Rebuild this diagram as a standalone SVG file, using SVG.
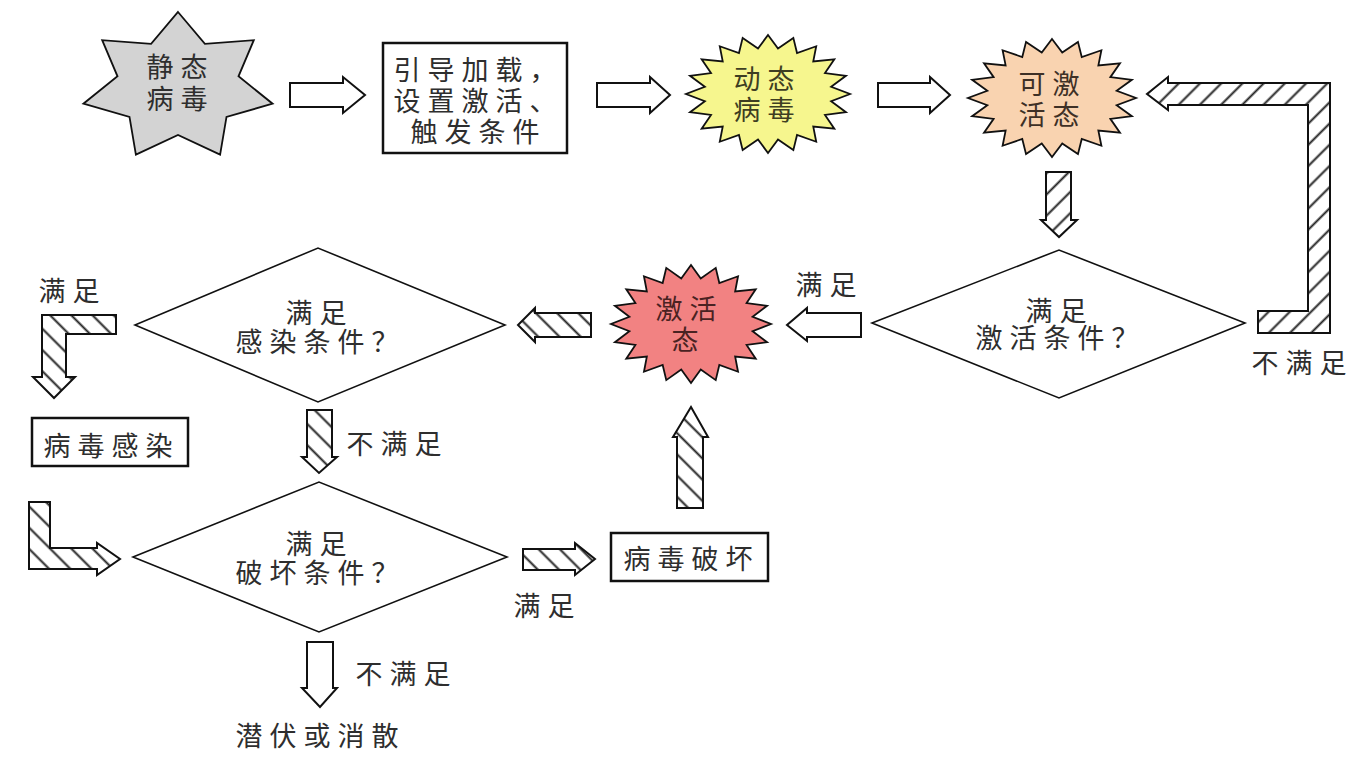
<svg xmlns="http://www.w3.org/2000/svg" xmlns:xlink="http://www.w3.org/1999/xlink" width="1356" height="759" viewBox="0 0 1356 759">
<style>
text{font-family:"Noto Sans CJK SC","Noto Sans",sans-serif;font-size:27px;letter-spacing:7px;fill:#2e2e2e}
.box{fill:#fff;stroke:#111;stroke-width:2.5}
.dia{fill:#fff;stroke:#111;stroke-width:1.6}
.star{stroke:#111;stroke-width:1.8;stroke-linejoin:miter}
.hol{fill:#fff;stroke:#111;stroke-width:2;stroke-linejoin:miter}
.hf{fill:url(#hatchF);stroke:#111;stroke-width:2;stroke-linejoin:miter}
.hb{fill:url(#hatchB);stroke:#111;stroke-width:2;stroke-linejoin:miter}
</style>
<defs>
<pattern id="hatchF" patternUnits="userSpaceOnUse" width="15" height="15" patternTransform="rotate(45)">
<rect width="15" height="15" fill="#fff"/><line x1="7.5" y1="-1" x2="7.5" y2="16" stroke="#222" stroke-width="2"/>
</pattern>
<pattern id="hatchB" patternUnits="userSpaceOnUse" width="15" height="15" patternTransform="rotate(-45)">
<rect width="15" height="15" fill="#fff"/><line x1="7.5" y1="-1" x2="7.5" y2="16" stroke="#222" stroke-width="2"/>
</pattern>
<polygon id="burst20" vector-effect="non-scaling-stroke" points="0,-1 0.122,-0.770 0.309,-0.951 0.354,-0.695 0.588,-0.809 0.552,-0.552 0.809,-0.588 0.695,-0.354 0.951,-0.309 0.770,-0.122 1,0 0.770,0.122 0.951,0.309 0.695,0.354 0.809,0.588 0.552,0.552 0.588,0.809 0.354,0.695 0.309,0.951 0.122,0.770 0,1 -0.122,0.770 -0.309,0.951 -0.354,0.695 -0.588,0.809 -0.552,0.552 -0.809,0.588 -0.695,0.354 -0.951,0.309 -0.770,0.122 -1,0 -0.770,-0.122 -0.951,-0.309 -0.695,-0.354 -0.809,-0.588 -0.552,-0.552 -0.588,-0.809 -0.354,-0.695 -0.309,-0.951 -0.122,-0.770"/>
</defs>
<rect width="1356" height="759" fill="#fff"/>

<g id="connectors">
<polygon class="hol" points="290,83 343,83 343,77 365,95 343,113 343,107 290,107"/>
<polygon class="hol" points="597,83 650,83 650,77 670,95 650,113 650,107 597,107"/>
<polygon class="hol" points="878,83 930,83 930,77 950,95 930,113 930,107 878,107"/>
<polygon class="hf" points="1046,172 1071,172 1071,220 1077,220 1059,237 1041,220 1046,220"/>
<polygon class="hf" points="1258,311 1308,311 1308,105 1168,105 1168,110 1147,94 1168,77 1168,83 1330,83 1330,333 1258,333"/>
<polygon class="hol" points="861,313 807,313 807,308 787,325 807,341 807,337 861,337"/>
<polygon class="hb" points="591,313 535,313 535,308 518,325 535,342 535,337 591,337"/>
<polygon class="hb" points="116,315 42,315 42,377 33,377 54,398 75,377 66,377 66,334 116,334"/>
<polygon class="hb" points="307,410 332,410 332,457 337,457 319,473 302,457 307,457"/>
<polygon class="hb" points="29,502 50,502 50,548 97,548 97,543 120,559 97,575 97,569 29,569"/>
<polygon class="hol" points="307,642 333,642 333,688 337,688 320,707 302,688 307,688"/>
<polygon class="hb" points="523,549 575,549 575,543 595,559 575,575 575,570 523,570"/>
<polygon class="hb" points="677,508 677,437 673,437 691,407 708,437 703,437 703,508"/>
<text x="38.5" y="301">满足</text>
<text x="346.5" y="454">不满足</text>
<text x="355.5" y="684">不满足</text>
<text x="513.5" y="616">满足</text>
<text x="795.5" y="295">满足</text>
<text x="1251.5" y="373">不满足</text>
</g>

<g id="static-virus">
<polygon class="star" fill="#d3d3d3" points="178,12 204.9,43.8 253.8,40.2 238.5,76.3 272.6,103.7 226.5,116.9 220.1,154.6 178,135 135.9,154.6 129.5,116.9 83.4,103.7 117.5,76.3 102.2,40.2 151.1,43.8"/>
<text><tspan x="146.5" y="77">静态</tspan><tspan x="146.5" y="109">病毒</tspan></text>
</g>

<g id="load-box">
<rect class="box" x="383" y="43" width="184" height="110"/>
<text><tspan x="393.5" y="80">引导加载，</tspan><tspan x="393.5" y="111">设置激活、</tspan><tspan x="410.5" y="142">触发条件</tspan></text>
</g>

<g id="dynamic-virus">
<use xlink:href="#burst20" class="star" fill="#f6f68e" transform="translate(768,94) scale(82,59)"/>
<text style="fill:#3e3e22"><tspan x="733.5" y="89">动态</tspan><tspan x="733.5" y="120">病毒</tspan></text>
</g>

<g id="activatable">
<use xlink:href="#burst20" class="star" fill="#f9d3b0" transform="translate(1052,98) scale(84,59)"/>
<text style="fill:#3e3026"><tspan x="1018.5" y="94">可激</tspan><tspan x="1018.5" y="125">活态</tspan></text>
</g>

<g id="activate-decision">
<polygon class="dia" points="872,323 1059,250 1245,323 1059,398"/>
<text><tspan x="1025.5" y="321">满足</tspan><tspan x="975.5" y="348">激活条件？</tspan></text>
</g>

<g id="active">
<use xlink:href="#burst20" class="star" fill="#f28282" transform="translate(691,324) scale(80,59)"/>
<text style="fill:#4a2222"><tspan x="655.5" y="319">激活</tspan><tspan x="671.5" y="350">态</tspan></text>
</g>

<g id="infect-decision">
<polygon class="dia" points="135,325 318,248 505,325 318,402"/>
<text><tspan x="285.5" y="323">满足</tspan><tspan x="235.5" y="352">感染条件？</tspan></text>
</g>

<g id="infect-box">
<rect class="box" x="32" y="418" width="156" height="48"/>
<text x="43.5" y="456">病毒感染</text>
</g>

<g id="destroy-decision">
<polygon class="dia" points="133,557 319,482 507,557 319,632"/>
<text><tspan x="285.5" y="554">满足</tspan><tspan x="235.5" y="583">破坏条件？</tspan></text>
</g>

<g id="destroy-box">
<rect class="box" x="611" y="533" width="157" height="48"/>
<text x="623.5" y="569">病毒破坏</text>
</g>

<g id="latent">
<text x="235.5" y="746">潜伏或消散</text>
</g>
</svg>
